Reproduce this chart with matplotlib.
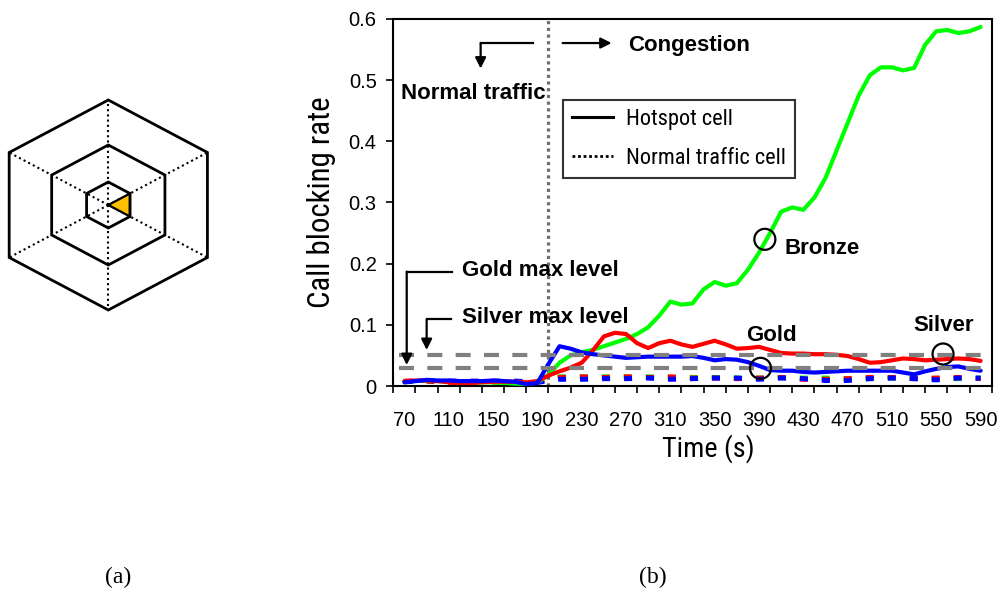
import numpy as np
import matplotlib
matplotlib.use('Agg')
import matplotlib.pyplot as plt
from matplotlib import font_manager as fm
from matplotlib.font_manager import FontProperties
from matplotlib.patches import Ellipse, Polygon
from matplotlib.lines import Line2D

# ---------------- data ----------------
time_s = list(range(70, 600, 10))          # hotspot-cell sampling times
time_n = list(range(70, 600, 20))          # normal-cell sampling times

bronze_hot = [0.008, 0.008, 0.009, 0.008, 0.007, 0.006, 0.006, 0.006, 0.006, 0.005,
              0.004, 0.003, 0.006, 0.018, 0.038, 0.050, 0.055, 0.059, 0.065, 0.071,
              0.077, 0.085, 0.096, 0.115, 0.138, 0.133, 0.135, 0.158, 0.170, 0.164,
              0.168, 0.190, 0.218, 0.250, 0.285, 0.292, 0.288, 0.308, 0.340, 0.385,
              0.430, 0.475, 0.508, 0.521, 0.521, 0.516, 0.520, 0.558, 0.580, 0.582,
              0.577, 0.580, 0.587]
gold_hot = [0.008, 0.009, 0.009, 0.008, 0.006, 0.005, 0.005, 0.006, 0.007, 0.007,
            0.007, 0.006, 0.008, 0.017, 0.024, 0.030, 0.038, 0.058, 0.081, 0.087,
            0.085, 0.070, 0.062, 0.070, 0.074, 0.068, 0.064, 0.069, 0.074, 0.068,
            0.061, 0.062, 0.064, 0.059, 0.054, 0.053, 0.053, 0.052, 0.052, 0.051,
            0.049, 0.044, 0.038, 0.039, 0.042, 0.045, 0.044, 0.042, 0.043, 0.044,
            0.045, 0.044, 0.041]
silver_hot = [0.006, 0.008, 0.010, 0.009, 0.009, 0.008, 0.008, 0.008, 0.009, 0.008,
              0.007, 0.003, 0.005, 0.036, 0.065, 0.061, 0.055, 0.052, 0.050, 0.048,
              0.046, 0.047, 0.048, 0.048, 0.048, 0.048, 0.049, 0.046, 0.042, 0.044,
              0.043, 0.039, 0.033, 0.026, 0.025, 0.025, 0.023, 0.022, 0.023, 0.024,
              0.025, 0.025, 0.025, 0.025, 0.025, 0.022, 0.019, 0.024, 0.028, 0.031,
              0.032, 0.028, 0.025]

bronze_norm = [0.007, 0.008, 0.007, 0.006, 0.006, 0.006, 0.006, 0.015, 0.015, 0.015,
               0.015, 0.015, 0.014, 0.014, 0.014, 0.013, 0.013, 0.014, 0.013, 0.013,
               0.012, 0.012, 0.013, 0.013, 0.012, 0.012, 0.013]
gold_norm = [0.008, 0.008, 0.006, 0.006, 0.007, 0.007, 0.007, 0.014, 0.015, 0.014,
             0.015, 0.014, 0.015, 0.013, 0.013, 0.012, 0.013, 0.014, 0.011, 0.011,
             0.012, 0.014, 0.014, 0.012, 0.013, 0.014, 0.012]
silver_norm = [0.007, 0.009, 0.008, 0.008, 0.008, 0.008, 0.006, 0.011, 0.011, 0.012,
               0.012, 0.013, 0.011, 0.012, 0.013, 0.013, 0.011, 0.013, 0.012, 0.009,
               0.009, 0.012, 0.013, 0.012, 0.010, 0.013, 0.013]

gold_max = 0.03
silver_max = 0.05
congestion_start = 200
tick_labels = list(range(70, 600, 40))
y_ticks = [0, 0.1, 0.2, 0.3, 0.4, 0.5, 0.6]

# ---------------- fonts ----------------
names = {f.name for f in fm.fontManager.ttflist}
SANS = 'Liberation Sans' if 'Liberation Sans' in names else 'DejaVu Sans'
SERIF = 'Liberation Serif' if 'Liberation Serif' in names else 'DejaVu Serif'


def find_narrow_file():
    bad = ('bold', 'italic', 'oblique', 'light', 'black', 'thin', 'medium',
           'semi', 'mono', 'serif', 'extra', 'heavy', 'book')
    cands = []
    for f in fm.fontManager.ttflist:
        fn = f.fname.lower().split('/')[-1]
        if ('narrow' in fn or 'condensed' in fn) and not any(b in fn for b in bad):
            rank = 5
            if 'liberationsansnarrow' in fn:
                rank = 0
            elif 'roboto' in fn:
                rank = 1
            elif 'dejavusans' in fn:
                rank = 3
            elif 'sans' in fn:
                rank = 2
            cands.append((rank, f.fname))
    if cands:
        cands.sort()
        return cands[0][1]
    return None


_nf = find_narrow_file()


def narrow_fp(size):
    if _nf:
        return FontProperties(fname=_nf, size=size)
    return FontProperties(family=SANS, size=size)


W, H = 1002, 592
fig = plt.figure(figsize=(W / 100, H / 100), dpi=100)
renderer = fig.canvas.get_renderer()


def fit_size(txt, target_px, base=16.0):
    t = fig.text(0, 0, txt, fontproperties=narrow_fp(base))
    w = t.get_window_extent(renderer).width
    t.remove()
    return base * target_px / w


# ---------------- panel (a): hexagons ----------------
axh = fig.add_axes([0, 0, 1, 1])
axh.set_xlim(0, W)
axh.set_ylim(H, 0)
axh.axis('off')
cx, cy = 108.3, 205.0
stretch = 1.09
radii = [105, 60, 23]
angles = np.deg2rad([90, 30, -30, -90, -150, 150])


def hex_pts(R):
    return np.column_stack([cx + stretch * R * np.cos(angles), cy - R * np.sin(angles)])


outer = hex_pts(radii[0])
for (x, y) in outer:
    axh.plot([cx, x], [cy, y], color='black', lw=1.5, ls=(0, (1, 1.5)))
inner = hex_pts(radii[2])
axh.add_patch(Polygon([[cx, cy], inner[1], inner[2]], closed=True,
                      facecolor='#FFC000', edgecolor='black', lw=1.6, zorder=3))
for R in radii:
    axh.add_patch(Polygon(hex_pts(R), closed=True, fill=False, edgecolor='black',
                          lw=2.0, joinstyle='miter', zorder=4))

axh.text(118, 577, '(a)', family=SERIF, fontsize=17, ha='center', va='center')
axh.text(653, 577, '(b)', family=SERIF, fontsize=17, ha='center', va='center')

# ---------------- panel (b): chart ----------------
ax = fig.add_axes([393.3 / W, 1 - 386 / H, (991.7 - 393.3) / W, (386 - 19) / H])
ax.set_xlim(60, 600)
ax.set_ylim(0, 0.6)

ax.axvline(congestion_start, color='#6f6f6f', lw=2.3, ls=(0, (1, 1.1)), zorder=2)

dot = (0, (1.6, 2.8))
for vals, col in [(bronze_norm, '#00FF00'), (gold_norm, '#FF0000'), (silver_norm, '#0000FF')]:
    ax.plot(time_n, vals, color=col, lw=3.6, ls=dot, dash_capstyle='butt', zorder=3)
for vals, col in [(bronze_hot, '#00FF00'), (gold_hot, '#FF0000'), (silver_hot, '#0000FF')]:
    ax.plot(time_s, vals, color=col, lw=3.0, solid_joinstyle='round',
            solid_capstyle='round', zorder=4)

for lvl in (gold_max, silver_max):
    ax.plot([65, 590], [lvl, lvl], color='#808080', lw=3.0, ls=(0, (3.6, 3.2)), zorder=5)

for s in ax.spines.values():
    s.set_linewidth(1.5)
ax.set_yticks(y_ticks)
ax.set_yticklabels(['0'] + [f'{v:.1f}' for v in y_ticks[1:]])
ax.set_xticks(list(range(60, 601, 20)))
ax.set_xticklabels([])
ax.set_xticks(tick_labels, minor=True)
ax.set_xticklabels([str(t) for t in tick_labels], minor=True)
ax.tick_params(axis='x', which='major', direction='out', length=5, width=1.2)
ax.tick_params(axis='x', which='minor', length=0, pad=18)
ax.tick_params(axis='y', direction='out', length=5, width=1.2, pad=7)
for lab in ax.get_xticklabels(minor=True) + ax.get_yticklabels():
    lab.set_family(SANS)
    lab.set_fontsize(14.5)

ax.set_xlabel('Time (s)', fontproperties=narrow_fp(fit_size('Time (s)', 93)))
ax.xaxis.label.set_va('center')
ax.xaxis.set_label_coords(0.526, -63 / 367)
ax.set_ylabel('Call blocking rate',
              fontproperties=narrow_fp(fit_size('Call blocking rate', 212)))
ax.yaxis.label.set_va('center')
ax.yaxis.set_label_coords((321 - 393.3) / 598.4, 0.5)

# annotations
bold = dict(family=SANS, fontsize=16, fontweight='bold', va='center', ha='left', zorder=6)
ax.text(66.7, 0.478, 'Normal traffic', **bold)
ax.text(272, 0.557, 'Congestion', **bold)
ax.text(121.7, 0.1896, 'Gold max level', **bold)
ax.text(121.7, 0.1128, 'Silver max level', **bold)
ax.text(413.3, 0.2245, 'Bronze', **bold)
ax.text(378.7, 0.0826, 'Gold', **bold)
ax.text(529.6, 0.0992, 'Silver', **bold)

arr = dict(arrowstyle='-|>', lw=1.6, color='black', mutation_scale=16,
           shrinkA=0, shrinkB=0)
ax.annotate('', xy=(257, 0.5607), xytext=(212.8, 0.5607), arrowprops=arr, zorder=6)
ax.plot([185.7, 138.8], [0.5607, 0.5607], color='black', lw=1.6, zorder=6)
ax.annotate('', xy=(138.8, 0.519), xytext=(138.8, 0.5607), arrowprops=arr, zorder=6)
ax.plot([112.7, 72.1], [0.1869, 0.1869], color='black', lw=1.6, zorder=6)
ax.annotate('', xy=(72.1, 0.0343), xytext=(72.1, 0.1869), arrowprops=arr, zorder=6)
ax.plot([111.8, 90.1], [0.109, 0.109], color='black', lw=1.6, zorder=6)
ax.annotate('', xy=(90.1, 0.0589), xytext=(90.1, 0.109), arrowprops=arr, zorder=6)

px_t = 540 / (991.7 - 393.3)
px_v = 0.6 / (386 - 19)
for (t, v) in [(395.3, 0.2398), (391.4, 0.0289), (556.1, 0.0523)]:
    ax.add_patch(Ellipse((t, v), 21 * px_t, 21 * px_v, fill=False,
                         edgecolor='black', lw=1.6, zorder=7))

# legend
leg_size = fit_size('Normal traffic cell', 160)
handles = [Line2D([], [], color='black', lw=2.2),
           Line2D([], [], color='black', lw=2.0, ls=(0, (1, 1)))]
leg = fig.legend(handles, ['Hotspot cell', 'Normal traffic cell'],
                 loc='upper left', bbox_to_anchor=(562.7 / W, 1 - 100 / H),
                 frameon=True, fancybox=False, edgecolor='black',
                 prop=narrow_fp(leg_size), handlelength=1.85,
                 borderpad=0.4, labelspacing=0.8, handletextpad=0.6,
                 borderaxespad=0)
leg.get_frame().set_linewidth(1.5)

fig.savefig('out.png', dpi=100)
